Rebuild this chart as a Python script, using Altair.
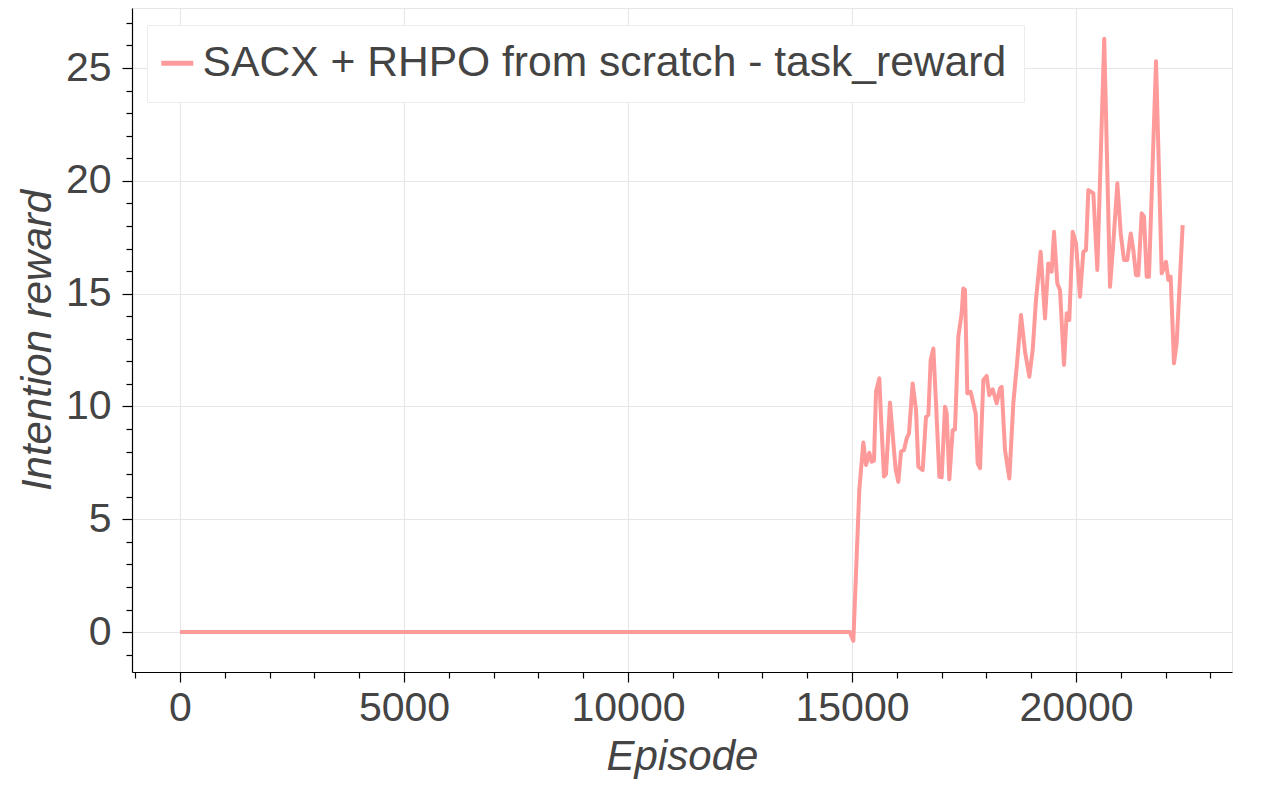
import altair as alt
import pandas as pd

SERIES = "SACX + RHPO from scratch - task_reward"

episodes = [0, 14950, 15030, 15163, 15253, 15313, 15387, 15439, 15491, 15536,
            15610, 15647, 15714, 15759, 15848, 15937, 15975, 16034, 16094, 16161,
            16220, 16272, 16354, 16429, 16481, 16578, 16652, 16704, 16756, 16816,
            16875, 16950, 17002, 17076, 17113, 17173, 17247, 17299, 17373, 17448,
            17485, 17522, 17574, 17649, 17708, 17760, 17805, 17857, 17932, 18006,
            18065, 18140, 18229, 18304, 18341, 18415, 18512, 18601, 18690, 18772,
            18862, 18958, 19033, 19107, 19211, 19308, 19382, 19457, 19509, 19583,
            19643, 19732, 19792, 19851, 19926, 20000, 20089, 20164, 20223, 20275,
            20387, 20476, 20630, 20759, 20833, 20923, 20998, 21071, 21145, 21221,
            21280, 21339, 21391, 21466, 21518, 21578, 21629, 21786, 21913, 22009,
            22061, 22113, 22187, 22247, 22381]

rewards = [0.0, 0.0, -0.39, 6.3, 8.4, 7.4, 7.95, 7.55, 7.6, 10.65,
           11.25, 9.55, 6.9, 7.0, 10.17, 8.07, 7.2, 6.66, 8.0, 8.07,
           8.58, 8.8, 11.02, 9.84, 7.33, 7.18, 9.54, 9.62, 12.06, 12.57,
           10.14, 6.88, 6.86, 9.99, 9.7, 6.77, 8.95, 8.98, 13.09, 14.13,
           15.23, 15.16, 10.58, 10.65, 10.14, 9.69, 7.48, 7.26, 11.17, 11.35,
           10.5, 10.76, 10.14, 10.8, 10.87, 8.07, 6.81, 10.14, 12.06, 14.05,
           12.43, 11.32, 12.5, 14.72, 16.86, 13.9, 16.34, 15.97, 17.74, 15.45,
           15.16, 11.84, 14.13, 13.83, 17.74, 17.23, 14.86, 16.86, 16.93, 19.59,
           19.45, 16.05, 26.3, 15.3, 17.23, 19.89, 17.67, 16.49, 16.49, 17.67,
           16.93, 15.82, 15.82, 18.56, 18.41, 15.75, 15.75, 25.3, 15.9, 16.41,
           15.6, 15.75, 11.91, 12.8, 18.04]

x_ticks = list(range(-1000, 24000, 1000))
y_ticks = list(range(-1, 28, 1))

df = pd.DataFrame({"Episode": episodes, "reward": rewards, "series": SERIES})

FONT = "Liberation Sans"
TEXT = "#444444"
GRID = "#e6e6e6"

x_major = "datum.value % 5000 === 0"
y_major = "datum.value % 5 === 0"

chart = alt.Chart(df).mark_line(strokeWidth=4, strokeJoin="round").encode(
    x=alt.X("Episode:Q",
            scale=alt.Scale(domain=[-1071, 23482], nice=False, zero=False),
            axis=alt.Axis(values=x_ticks, format="d",
                          labelExpr=f"{x_major} ? datum.label : ''",
                          tickSize={"condition": {"test": x_major, "value": 10}, "value": 6},
                          gridOpacity={"condition": {"test": x_major, "value": 1}, "value": 0},
                          title="Episode", titleFontStyle="italic",
                          labelPadding=6, titlePadding=8)),
    y=alt.Y("reward:Q",
            scale=alt.Scale(domain=[-1.77, 27.66], nice=False, zero=False),
            axis=alt.Axis(values=y_ticks, format="d",
                          labelExpr=f"{y_major} ? datum.label : ''",
                          tickSize={"condition": {"test": y_major, "value": 10}, "value": 6},
                          gridOpacity={"condition": {"test": y_major, "value": 1}, "value": 0},
                          title="Intention reward", titleFontStyle="italic",
                          labelPadding=11, titlePadding=6)),
    color=alt.Color("series:N",
                    scale=alt.Scale(domain=[SERIES], range=["#ff9a9a"]),
                    legend=alt.Legend(title=None, orient="none", legendX=15, legendY=17,
                                      padding=17, fillColor="white", strokeColor="#ececec",
                                      symbolType="stroke", symbolSize=1024,
                                      symbolStrokeWidth=5, labelOffset=4, symbolOffset=-8,
                                      labelFontSize=42.6, labelFont=FONT, labelColor=TEXT,
                                      labelLimit=2000)),
).properties(
    width=1100, height=664,
    autosize=alt.AutoSizeParams(type="none"),
    padding={"left": 124, "top": 0, "right": 40, "bottom": 120},
).configure_view(
    stroke="#e6e6e6", strokeWidth=1
).configure_axis(
    labelFont=FONT, titleFont=FONT, labelFontSize=41, titleFontSize=42,
    labelColor=TEXT, titleColor=TEXT, titleFontWeight="normal",
    domainColor="black", domainWidth=1.2, tickColor="black", tickWidth=1.2,
    gridColor=GRID, gridWidth=1,
)

chart.save("out.html", embed_options={"renderer": "svg", "actions": False})
